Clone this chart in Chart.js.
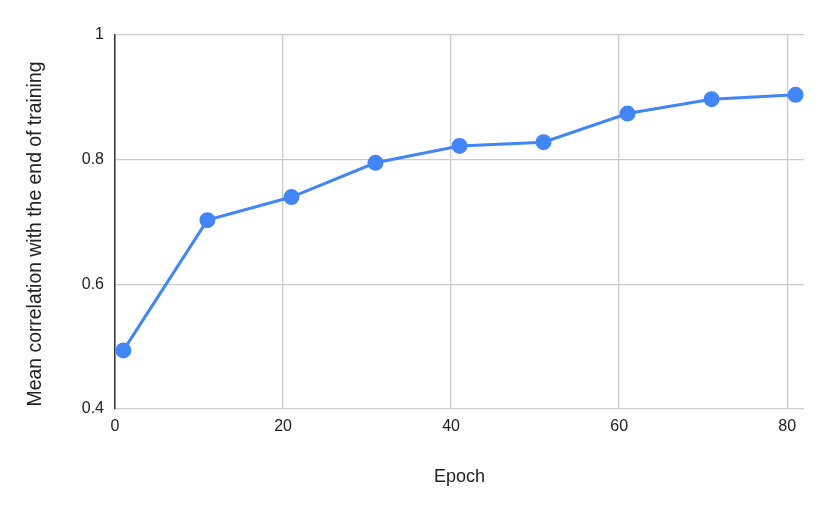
<!DOCTYPE html>
<html><head><meta charset="utf-8">
<script src="https://cdn.jsdelivr.net/npm/chart.js@4/dist/chart.umd.min.js"></script>
<style>html,body{margin:0;padding:0;background:#fff}#wrap{width:830px;height:514px}</style>
</head><body><div id="wrap"><canvas id="c" width="830" height="514"></canvas></div>
<script>
const epochs = [1, 11, 21, 31, 41, 51, 61, 71, 81];
const meanCorrelation = [0.494, 0.703, 0.740, 0.795, 0.822, 0.828, 0.874, 0.897, 0.904];
const xTitle = "Epoch";
const yTitle = "Mean correlation with the end of training";

const pts = epochs.map((e, i) => ({x: e, y: meanCorrelation[i]}));
const font = "'Liberation Sans', Arial, sans-serif";

const yTitlePlugin = {
  id: 'yTitle',
  afterDraw(chart) {
    const ctx = chart.ctx;
    ctx.save();
    ctx.translate(41, 234);
    ctx.rotate(-Math.PI / 2);
    ctx.fillStyle = '#222';
    ctx.font = "19.4px " + font;
    ctx.textAlign = 'center';
    ctx.textBaseline = 'alphabetic';
    ctx.fillText(yTitle, 0, 0);
    ctx.restore();
  }
};

new Chart(document.getElementById('c'), {
  type: 'line',
  data: { datasets: [{ data: pts, borderColor: '#4285F4', backgroundColor: '#4285F4',
    borderWidth: 3, pointRadius: 6.5, pointHoverRadius: 6.5, tension: 0 }] },
  plugins: [yTitlePlugin],
  options: {
    responsive: false, animation: false,
    layout: { padding: { left: 0, right: 26, top: 35, bottom: 0 } },
    plugins: { legend: { display: false }, tooltip: { enabled: false } },
    scales: {
      x: { type: 'linear', min: 0, max: 82,
        ticks: { stepSize: 20, includeBounds: false, color: '#222', font: { family: font, size: 16 }, padding: 8 },
        grid: { color: '#cccccc', lineWidth: 1.3, drawTicks: false },
        border: { display: false },
        title: { display: true, text: xTitle, color: '#222', font: { family: font, size: 18 }, padding: { top: 0, bottom: 26 } },
        afterFit(s) { s.height = 105; } },
      y: { min: 0.4, max: 1,
        ticks: { stepSize: 0.2, color: '#222', font: { family: font, size: 16 }, padding: 11,
          callback: v => Math.round(v * 10) / 10 + '' },
        grid: { color: '#cccccc', lineWidth: 1.3, drawTicks: false },
        border: { display: true, color: '#333', width: 1.5 },
        title: { display: false },
        afterFit(s) { s.width = 115; } }
    }
  }
});
</script></body></html>
